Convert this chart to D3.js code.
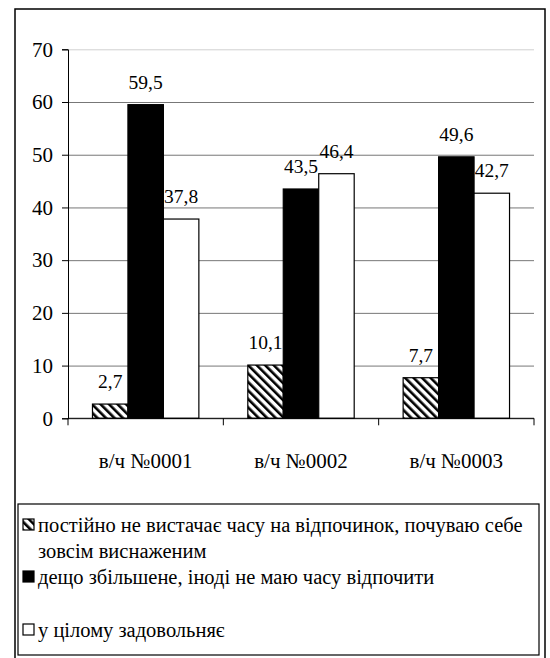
<!DOCTYPE html>
<html>
<head>
<meta charset="utf-8">
<script src="https://cdn.jsdelivr.net/npm/d3@7"></script>
<style>
  html body svg#chart text { font-family: "Liberation Serif", Tinos, "Times New Roman", serif !important; }
</style>
</head>
<body style="margin:0">
<svg id="chart" width="550" height="658"></svg>
<script>
// chart data
const categories = ["в/ч №0001", "в/ч №0002", "в/ч №0003"];
const seriesNames = [
    "постійно не вистачає часу на відпочинок, почуваю себе зовсім виснаженим",
    "дещо збільшене, іноді не маю часу відпочити",
    "у цілому задовольняє"
];
const exhausted = [2.7, 10.1, 7.7];
const increased = [59.5, 43.5, 49.6];
const satisfied = [37.8, 46.4, 42.7];
const yTicks = [0, 10, 20, 30, 40, 50, 60, 70];

const seriesValues = [exhausted, increased, satisfied];
const fills = ["url(#hatch)", "#000", "#fff"];
const fontName = "\"Liberation Serif\", Tinos, serif";

const svg = d3.select("#chart");

function serifText(sel, size) {
    return sel.attr("font-family", "Liberation Serif")
        .style("font-family", fontName, "important")
        .attr("font-size", size);
}

// hatch pattern for first series
const defs = svg.append("defs");
const pat = defs.append("pattern")
    .attr("id", "hatch")
    .attr("patternUnits", "userSpaceOnUse")
    .attr("width", 6).attr("height", 6)
    .attr("patternTransform", "rotate(-45)");
pat.append("rect").attr("width", 6).attr("height", 6).attr("fill", "#fff");
pat.append("rect").attr("x", 0).attr("width", 2.6).attr("height", 6).attr("fill", "#000");

// outer frame
svg.append("rect")
    .attr("x", 15).attr("y", 9)
    .attr("width", 530).attr("height", 660)
    .attr("fill", "none").attr("stroke", "#000").attr("stroke-width", 1.5);

const mLeft = 68, mRight = 534, mTop = 49.3, mBottom = 418.3;

const x = d3.scaleBand()
    .domain(categories)
    .range([mLeft, mRight]);

const xs = d3.scaleBand()
    .domain([0, 1, 2])
    .range([0, x.bandwidth()])
    .paddingOuter(0.69);

const y = d3.scaleLinear()
    .domain([0, 70])
    .range([mBottom, mTop]);

// gridlines
svg.append("g")
    .attr("transform", `translate(${mLeft},0)`)
    .call(d3.axisLeft(y).tickValues(yTicks).tickSize(-(mRight - mLeft)).tickFormat(""))
    .call(g => g.select(".domain").remove())
    .call(g => g.selectAll(".tick line")
        .attr("stroke", d => d === 70 ? "#d0d0d0" : "#777"));

// bars
seriesValues.forEach((vals, si) => {
    svg.append("g").selectAll("rect")
        .data(vals)
        .join("rect")
        .attr("x", (d, i) => x(categories[i]) + xs(si))
        .attr("y", d => y(d))
        .attr("width", xs.bandwidth())
        .attr("height", d => y(0) - y(d))
        .attr("fill", fills[si])
        .attr("stroke", "#000")
        .attr("stroke-width", 1.2);

    svg.selectAll("text.lbl" + si)
        .data(vals)
        .join("text")
        .attr("class", "lbl" + si)
        .attr("x", (d, i) => x(categories[i]) + xs(si) + xs.bandwidth() / 2)
        .attr("y", d => y(d) - 16)
        .attr("text-anchor", "middle")
        .call(serifText, 19.5)
        .text(d => String(d).replace(".", ","));
});

// y axis
const ya = svg.append("g")
    .attr("transform", `translate(${mLeft},0)`)
    .call(d3.axisLeft(y).tickValues(yTicks).tickSize(6).tickPadding(9).tickFormat(d3.format("d")));
ya.attr("font-family", null).attr("font-size", null);
ya.select(".domain").attr("stroke", "#000");
ya.selectAll(".tick text")
    .call(serifText, 21)
    .attr("fill", "#000");

// x axis with ticks on band edges
const xa = svg.append("g").attr("transform", `translate(0,${mBottom})`);
xa.append("line").attr("x1", mLeft).attr("x2", mRight).attr("stroke", "#000");
xa.selectAll("line.edge")
    .data(categories.map(c => x(c)).concat([mRight]))
    .join("line")
    .attr("class", "edge")
    .attr("x1", d => d).attr("x2", d => d)
    .attr("y1", 0).attr("y2", 7)
    .attr("stroke", "#000");
svg.selectAll("text.cat")
    .data(categories)
    .join("text")
    .attr("class", "cat")
    .attr("x", d => x(d) + x.bandwidth() / 2)
    .attr("y", mBottom + 50)
    .attr("text-anchor", "middle")
    .call(serifText, 21)
    .text(d => d);

// legend
svg.append("rect")
    .attr("x", 18).attr("y", 504)
    .attr("width", 521).attr("height", 151)
    .attr("fill", "#fff").attr("stroke", "#000").attr("stroke-width", 1.2);

const legendRows = [
    { lines: ["постійно не вистачає часу на відпочинок, почуваю себе", "зовсім виснаженим"], y: 532 },
    { lines: ["дещо збільшене, іноді не маю часу відпочити"], y: 584 },
    { lines: ["у цілому задовольняє"], y: 637 }
];
const legendTexts = [];
legendRows.forEach((row, i) => {
    svg.append("rect")
        .attr("x", 23).attr("y", row.y - 13)
        .attr("width", 11).attr("height", 11)
        .attr("fill", fills[i]).attr("stroke", "#000").attr("stroke-width", 1.2);
    row.lines.forEach((ln, j) => {
        legendTexts.push(svg.append("text")
            .attr("x", 38)
            .attr("y", row.y + j * 26)
            .call(serifText, 20.5)
            .text(ln));
    });
});

// keep the long first legend line inside the box
const firstLen = legendTexts[0].node().getComputedTextLength();
if (firstLen > 500) {
    const size = 20.5 * 500 / firstLen;
    legendTexts.forEach(t => t.attr("font-size", size));
}
</script>
</body>
</html>
